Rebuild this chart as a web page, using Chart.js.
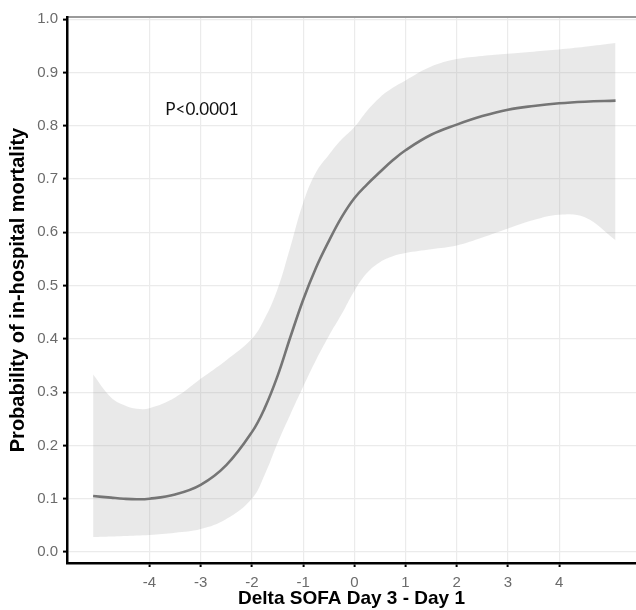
<!DOCTYPE html>
<html>
<head>
<meta charset="utf-8">
<script src="https://cdn.jsdelivr.net/npm/chart.js@4"></script>
<style>
  body { margin: 0; background: #ffffff; }
  #wrap { width: 636px; height: 610px; }
</style>
</head>
<body>
<div id="wrap"><canvas id="chart_prob" width="636" height="610"></canvas></div>
<script>
// Values
const deltaSofa = [-5.1, -4.75, -4.5, -4.25, -4, -3.5, -3, -2.5, -2, -1.75, -1.5, -1.25, -1, -0.75, -0.5, -0.25, 0, 0.25, 0.5, 0.75, 1, 1.5, 2, 2.5, 3, 3.5, 4, 4.5, 5.1];
const probFit = [0.105, 0.102, 0.100, 0.099, 0.100, 0.108, 0.126, 0.163, 0.225, 0.27, 0.33, 0.403, 0.473, 0.533, 0.583, 0.628, 0.664, 0.69, 0.713, 0.735, 0.754, 0.783, 0.802, 0.818, 0.830, 0.837, 0.842, 0.845, 0.847];
const probUpper = [0.333, 0.29, 0.276, 0.269, 0.27, 0.29, 0.325, 0.36, 0.40, 0.438, 0.493, 0.572, 0.655, 0.712, 0.745, 0.774, 0.797, 0.828, 0.853, 0.871, 0.885, 0.911, 0.925, 0.931, 0.935, 0.939, 0.943, 0.948, 0.955];
const probLower = [0.028, 0.029, 0.030, 0.031, 0.032, 0.036, 0.043, 0.062, 0.10, 0.145, 0.204, 0.258, 0.31, 0.36, 0.405, 0.446, 0.49, 0.524, 0.544, 0.555, 0.561, 0.568, 0.575, 0.59, 0.607, 0.623, 0.633, 0.628, 0.585];
const xTicks = [-4, -3, -2, -1, 0, 1, 2, 3, 4];
const yTicks = [0, 0.1, 0.2, 0.3, 0.4, 0.5, 0.6, 0.7, 0.8, 0.9, 1.0];
const pLabel = 'P<0.0001';
const pLabelPos = {x: -3.69, y: 0.831};

function toPoints(ys) { // pair the x values with one series
    return deltaSofa.map((x, i) => ({x: x, y: ys[i]}));
}

// Draws the p-value note at a position given in data units
const pValuePlugin = {
    id: 'pValue',
    afterDatasetsDraw(chart) {
        const ctx = chart.ctx;
        const x = chart.scales.x.getPixelForValue(pLabelPos.x);
        const y = chart.scales.y.getPixelForValue(pLabelPos.y);
        ctx.save();
        ctx.font = '17px Lato, "Open Sans", sans-serif';
        ctx.fillStyle = '#111111';
        ctx.textAlign = 'left';
        ctx.textBaseline = 'middle';
        ctx.fillText(pLabel, x, y);
        ctx.restore();
    }
};

const tickFont = {family: '"Liberation Sans", Arial, sans-serif', size: 15};

const ctx = document.getElementById('chart_prob').getContext('2d');
const probChart = new Chart(ctx, {
    type: 'line',
    data: {
        datasets: [
            {
                label: 'lower',
                data: toPoints(probLower),
                borderWidth: 0,
                pointRadius: 0,
                fill: false,
                tension: 0.4
            },
            {
                label: 'upper',
                data: toPoints(probUpper),
                borderWidth: 0,
                pointRadius: 0,
                backgroundColor: 'rgba(153, 153, 153, 0.22)',
                fill: '-1',
                tension: 0.4
            },
            {
                label: 'fit',
                data: toPoints(probFit),
                borderColor: '#6b6b6b',
                borderWidth: 2.6,
                pointRadius: 0,
                fill: false,
                tension: 0.4
            }
        ]
    },
    options: {
        responsive: false,
        animation: false,
        layout: {padding: {top: 17, right: 0, left: 0, bottom: 0}},
        plugins: {
            legend: {display: false},
            tooltip: {enabled: false}
        },
        scales: {
            x: {
                type: 'linear',
                position: 'bottom',
                min: -5.61,
                max: 5.5,
                afterBuildTicks: scale => { scale.ticks = xTicks.map(v => ({value: v})); },
                afterFit: scale => { scale.height = 47; },
                grid: {color: '#ebebeb', lineWidth: 1.2, tickColor: '#000000', tickLength: 4, tickWidth: 2},
                border: {color: '#000000', width: 2.5},
                ticks: {
                    font: tickFont,
                    color: '#6b6b6b',
                    padding: 7,
                    maxRotation: 0,
                    callback: v => String(v)
                },
                title: {
                    display: true,
                    text: 'Delta SOFA Day 3 - Day 1',
                    font: {family: '"Liberation Sans", Arial, sans-serif', size: 19, weight: 'bold'},
                    color: '#000000',
                    padding: 0
                }
            },
            xTop: {
                type: 'linear',
                position: 'top',
                min: -5.61,
                max: 5.5,
                afterFit: scale => { scale.height = 0; },
                grid: {display: false, drawTicks: false},
                border: {color: '#9a9a9a', width: 2},
                ticks: {display: false}
            },
            y: {
                type: 'linear',
                min: -0.0206,
                max: 1.004,
                afterBuildTicks: scale => { scale.ticks = yTicks.map(v => ({value: v})); },
                afterFit: scale => { scale.width = 67; },
                grid: {color: '#ebebeb', lineWidth: 1.2, tickColor: '#000000', tickLength: 4, tickWidth: 2},
                border: {color: '#000000', width: 2.5},
                ticks: {
                    font: tickFont,
                    color: '#6b6b6b',
                    padding: 5,
                    callback: v => v.toFixed(1)
                },
                title: {
                    display: true,
                    text: 'Probability of in-hospital mortality',
                    font: {family: '"Liberation Sans", Arial, sans-serif', size: 20, weight: 'bold'},
                    color: '#000000',
                    padding: {top: 6, bottom: 0}
                }
            }
        }
    },
    plugins: [pValuePlugin]
});
</script>
</body>
</html>
